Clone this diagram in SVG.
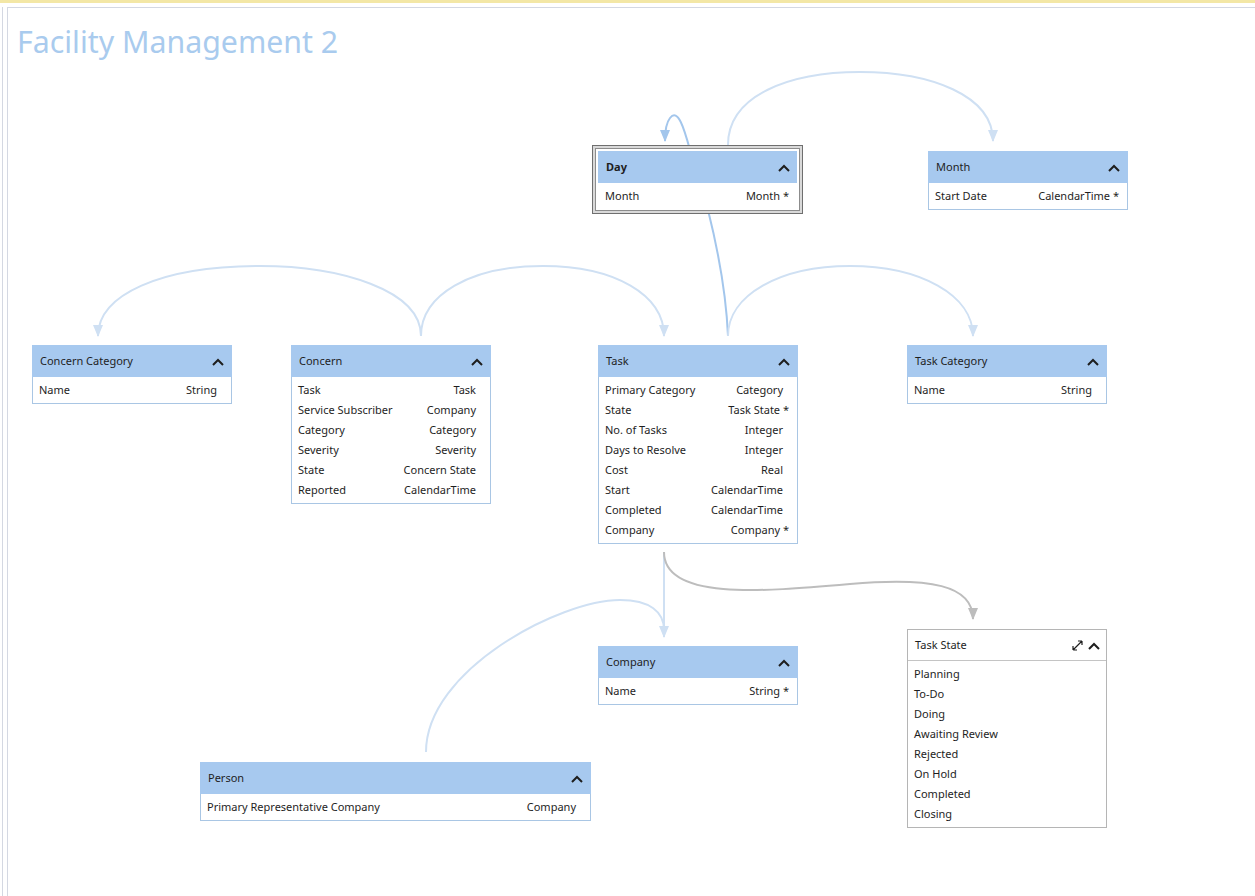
<svg xmlns="http://www.w3.org/2000/svg" width="1255" height="896" viewBox="0 0 1255 896">
<defs>
<style>
.hdr{fill:#a7c9ef}
.box{fill:#fff;stroke:#a9c6e4;stroke-width:1}
.t{font-family:"Noto Sans","Open Sans",sans-serif;font-size:11px;fill:#1e1e1e}
.b{font-weight:bold}
.r{text-anchor:end}
.chev{fill:none;stroke:#1e1e1e;stroke-width:2}
.c1{fill:none;stroke:#cfe0f3;stroke-width:2}
.c2{fill:none;stroke:#a3c6ec;stroke-width:2}
.c3{fill:none;stroke:#bdbdbd;stroke-width:2}
</style>
<marker id="a1" markerWidth="12" markerHeight="10" refX="11" refY="5" orient="auto" markerUnits="userSpaceOnUse"><path d="M0,0 L12,5 L0,10 Z" fill="#cfe0f3"/></marker>
<marker id="a2" markerWidth="12" markerHeight="10" refX="11" refY="5" orient="auto" markerUnits="userSpaceOnUse"><path d="M0,0 L12,5 L0,10 Z" fill="#a3c6ec"/></marker>
<marker id="a3" markerWidth="12" markerHeight="10" refX="11" refY="5" orient="auto" markerUnits="userSpaceOnUse"><path d="M0,0 L12,5 L0,10 Z" fill="#bdbdbd"/></marker>
</defs>
<rect x="0" y="0" width="1255" height="896" fill="#fff"/>
<rect x="0" y="0" width="1255" height="3" fill="#f3e7a6"/>
<line x1="8" y1="7.5" x2="1255" y2="7.5" stroke="#d4d8e2"/>
<line x1="2.5" y1="7" x2="2.5" y2="896" stroke="#d4d8e2"/>
<line x1="7.5" y1="7" x2="7.5" y2="896" stroke="#d4d8e2"/>
<text x="17" y="53" font-family="'Noto Sans','Open Sans',sans-serif" font-size="30.3" fill="#a9cbee">Facility Management 2</text>

<g id="connectors">
<path class="c2" d="M690 150 C684 128,678 108,670 118 C666 123,665 130,665 141" marker-end="url(#a2)"/>
<path class="c1" d="M728 145 C728 95,790 72,860 72 C930 72,993 95,993 141" marker-end="url(#a1)"/>
<path class="c2" d="M728 336 C726 290,718 250,708 210"/>
<path class="c1" d="M728 336 C728 295,780 266,850 266 C920 266,973 295,973 336" marker-end="url(#a1)"/>
<path class="c1" d="M421 336 C421 290,340 266,260 266 C160 266,98 295,98 336" marker-end="url(#a1)"/>
<path class="c1" d="M421 336 C421 295,470 266,543 266 C615 266,664 295,664 336" marker-end="url(#a1)"/>
<path class="c1" d="M664 552 L664 637" marker-end="url(#a1)"/>
<path class="c1" d="M426 752 C426 670,560 600,620 600 C650 600,664 612,664 630"/>
<path class="c3" d="M664 552 C664 600,760 592,850 584 C930 577,973 585,973 619" marker-end="url(#a3)"/>
</g>

<g id="day">
<rect x="592.5" y="145.5" width="210" height="68" fill="#d9d9d9" stroke="#6f6f6f"/>
<rect x="595.5" y="148.5" width="204" height="62" fill="#fff" stroke="#8c8c8c"/>
<rect class="hdr" x="598" y="151" width="199" height="32"/>
<text class="t b" x="606" y="171">Day</text>
<path class="chev" d="M779 171 L784 166 L789 171"/>
<text class="t" x="605" y="200">Month</text>
<text class="t r" x="789" y="200">Month *</text>
</g>

<g id="month">
<rect class="box" x="928.5" y="151.5" width="199" height="58"/>
<rect class="hdr" x="928" y="151" width="200" height="32"/>
<text class="t" x="936" y="171">Month</text>
<path class="chev" d="M1109 171 L1114 166 L1119 171"/>
<text class="t" x="935" y="200">Start Date</text>
<text class="t r" x="1119" y="200">CalendarTime *</text>
</g>

<g id="concern-category">
<rect class="box" x="32.5" y="345.5" width="199" height="58"/>
<rect class="hdr" x="32" y="345" width="200" height="32"/>
<text class="t" x="40" y="365">Concern Category</text>
<path class="chev" d="M213 365 L218 360 L223 365"/>
<text class="t" x="39" y="394">Name</text>
<text class="t r" x="217" y="394">String</text>
</g>

<g id="concern">
<rect class="box" x="291.5" y="345.5" width="199" height="158"/>
<rect class="hdr" x="291" y="345" width="200" height="32"/>
<text class="t" x="299" y="365">Concern</text>
<path class="chev" d="M472 365 L477 360 L482 365"/>
<text class="t" x="298" y="394">Task</text><text class="t r" x="476" y="394">Task</text>
<text class="t" x="298" y="414">Service Subscriber</text><text class="t r" x="476" y="414">Company</text>
<text class="t" x="298" y="434">Category</text><text class="t r" x="476" y="434">Category</text>
<text class="t" x="298" y="454">Severity</text><text class="t r" x="476" y="454">Severity</text>
<text class="t" x="298" y="474">State</text><text class="t r" x="476" y="474">Concern State</text>
<text class="t" x="298" y="494">Reported</text><text class="t r" x="476" y="494">CalendarTime</text>
</g>

<g id="task">
<rect class="box" x="598.5" y="345.5" width="199" height="198"/>
<rect class="hdr" x="598" y="345" width="200" height="32"/>
<text class="t" x="606" y="365">Task</text>
<path class="chev" d="M779 365 L784 360 L789 365"/>
<text class="t" x="605" y="394">Primary Category</text><text class="t r" x="783" y="394">Category</text>
<text class="t" x="605" y="414">State</text><text class="t r" x="789" y="414">Task State *</text>
<text class="t" x="605" y="434">No. of Tasks</text><text class="t r" x="783" y="434">Integer</text>
<text class="t" x="605" y="454">Days to Resolve</text><text class="t r" x="783" y="454">Integer</text>
<text class="t" x="605" y="474">Cost</text><text class="t r" x="783" y="474">Real</text>
<text class="t" x="605" y="494">Start</text><text class="t r" x="783" y="494">CalendarTime</text>
<text class="t" x="605" y="514">Completed</text><text class="t r" x="783" y="514">CalendarTime</text>
<text class="t" x="605" y="534">Company</text><text class="t r" x="789" y="534">Company *</text>
</g>

<g id="task-category">
<rect class="box" x="907.5" y="345.5" width="199" height="58"/>
<rect class="hdr" x="907" y="345" width="200" height="32"/>
<text class="t" x="915" y="365">Task Category</text>
<path class="chev" d="M1088 365 L1093 360 L1098 365"/>
<text class="t" x="914" y="394">Name</text>
<text class="t r" x="1092" y="394">String</text>
</g>

<g id="company">
<rect class="box" x="598.5" y="646.5" width="199" height="58"/>
<rect class="hdr" x="598" y="646" width="200" height="32"/>
<text class="t" x="606" y="666">Company</text>
<path class="chev" d="M779 666 L784 661 L789 666"/>
<text class="t" x="605" y="695">Name</text>
<text class="t r" x="789" y="695">String *</text>
</g>

<g id="task-state">
<rect x="907.5" y="629.5" width="199" height="198" fill="#fff" stroke="#b5b5b5"/>
<line x1="908" y1="660.5" x2="1106" y2="660.5" stroke="#c4c4c4"/>
<text class="t" x="915" y="649">Task State</text>
<path fill="none" stroke="#1e1e1e" stroke-width="1.2" d="M1073 650 L1082 641 M1073 650 L1073 646 M1073 650 L1077 650 M1082 641 L1078 641 M1082 641 L1082 645"/>
<path class="chev" d="M1089 649 L1094 644 L1099 649"/>
<text class="t" x="914" y="678">Planning</text>
<text class="t" x="914" y="698">To-Do</text>
<text class="t" x="914" y="718">Doing</text>
<text class="t" x="914" y="738">Awaiting Review</text>
<text class="t" x="914" y="758">Rejected</text>
<text class="t" x="914" y="778">On Hold</text>
<text class="t" x="914" y="798">Completed</text>
<text class="t" x="914" y="818">Closing</text>
</g>

<g id="person">
<rect class="box" x="200.5" y="762.5" width="390" height="58"/>
<rect class="hdr" x="200" y="762" width="391" height="32"/>
<text class="t" x="208" y="782">Person</text>
<path class="chev" d="M572 782 L577 777 L582 782"/>
<text class="t" x="207" y="811">Primary Representative Company</text>
<text class="t r" x="576" y="811">Company</text>
</g>
</svg>
